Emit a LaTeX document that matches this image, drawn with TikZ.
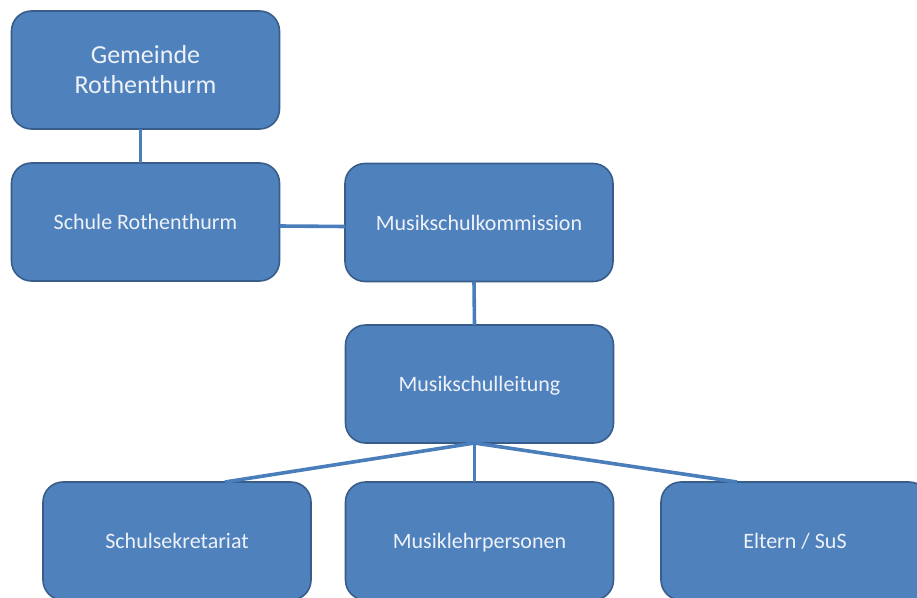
\documentclass[tikz,border=0pt]{standalone}
\usepackage{fontspec}
\setmainfont{Carlito}
\definecolor{boxfill}{HTML}{4F81BD}
\definecolor{boxline}{HTML}{385D8A}
\definecolor{conn}{HTML}{4A7EBB}
\definecolor{txt}{HTML}{EEF2F8}
\begin{document}
\begin{tikzpicture}[x=1pt,y=-1pt,
  basebox/.style={draw=boxline, line width=1.6pt, fill=boxfill, rounded corners=20pt,
    minimum width=268pt, minimum height=118pt, inner sep=0pt, outer sep=0pt,
    text=txt, align=center},
  orgbox/.style={basebox, font=\fontsize{22}{26}\selectfont,
    text height=15pt, text depth=0pt},
  titlebox/.style={basebox, font=\fontsize{26}{30}\selectfont},
  connector/.style={draw=conn, line width=3.6pt}]
\useasboundingbox (0,0) rectangle (917,597);
\clip (0,0) rectangle (917,597);
\node[titlebox] (gem) at (145.5,70) {Gemeinde\\Rothenthurm};
\node[orgbox] (schule) at (145.5,222) {Schule Rothenthurm};
\node[orgbox] (komm) at (479,222.5) {Musikschulkommission};
\node[orgbox] (leit) at (479.5,384) {Musikschulleitung};
\node[orgbox] (sekr) at (177,541) {Schulsekretariat};
\node[orgbox] (lehr) at (479.5,541) {Musiklehrpersonen};
\node[orgbox] (eltern) at (795,541) {Eltern / SuS};
\draw[connector] ([xshift=-5pt]gem.south) -- ([xshift=-5pt]schule.north);
\draw[connector] ([yshift=-4pt]schule.east) -- ([yshift=-4pt]komm.west);
\draw[connector] ([xshift=-5pt]komm.south) -- ([xshift=-5pt]leit.north);
\coordinate (hub) at ([xshift=-5pt]leit.south);
\draw[connector] (hub) -- ([xshift=48pt]sekr.north);
\draw[connector] (hub) -- ([xshift=-5pt]lehr.north);
\draw[connector] (hub) -- ([xshift=-58pt]eltern.north);
\end{tikzpicture}
\end{document}
